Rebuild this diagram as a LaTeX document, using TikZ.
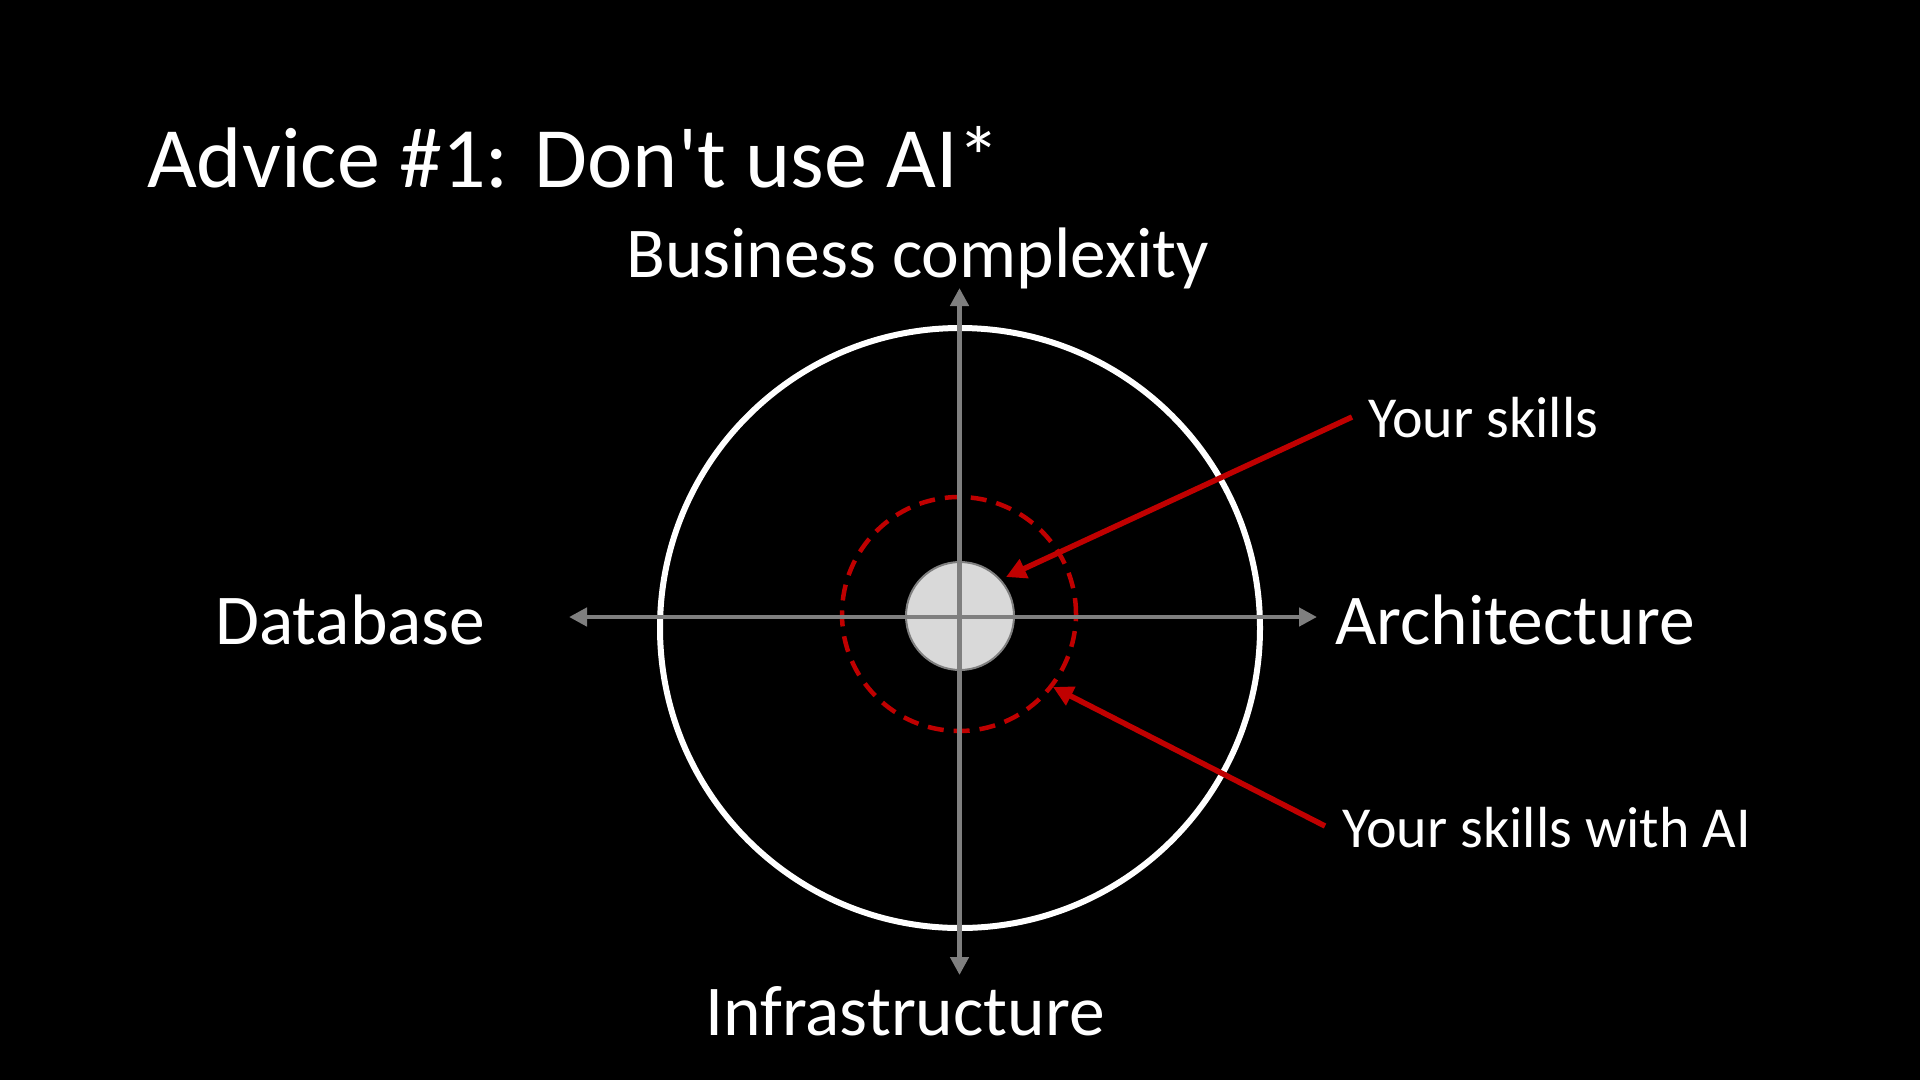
\documentclass[tikz,border=0pt]{standalone}
\usepackage{fontspec}
\setmainfont{Carlito}[Ligatures=TeXOff]
\usetikzlibrary{arrows.meta}
\definecolor{axisgray}{HTML}{7F7F7F}
\definecolor{lightfill}{HTML}{D9D9D9}
\definecolor{darkred}{HTML}{C00000}
\tikzset{
  axis/.style={draw=axisgray, line width=4.5pt, -{Triangle[length=18pt,width=18pt]}},
  redarrow/.style={draw=darkred, line width=5.5pt, -{Triangle[length=20pt,width=20pt]}},
  lbl/.style={text=white, inner sep=0pt, anchor=base west},
  big/.style={lbl, font=\fontsize{71.5}{72}\selectfont},
  small/.style={lbl, font=\fontsize{58}{58}\selectfont},
}
\begin{document}
\begin{tikzpicture}[x=1pt,y=-1pt]
\fill[black] (0,0) rectangle (1920,1080);
\useasboundingbox (0,0) rectangle (1920,1080);

\node[lbl, font=\fontsize{86}{86}\selectfont] (title) at (147,187) {Advice \#1: Don't use AI*};

\node[circle, draw=white, line width=6pt, minimum size=600pt, inner sep=0pt] (outer) at (960,628) {};
\node[circle, draw=darkred, line width=4.5pt, dash pattern=on 16pt off 10pt, minimum size=234pt, inner sep=0pt] (withai) at (959,614) {};
\node[circle, draw=axisgray, fill=lightfill, line width=2pt, minimum size=108pt, inner sep=0pt] (skills) at (960,616) {};

\coordinate (c) at (959.5,617);
\coordinate (left) at (569,617);
\coordinate (right) at (1317,617);
\coordinate (top) at (959.5,288);
\coordinate (bottom) at (959.5,975);
\draw[axis] (c) -- (left);
\draw[axis] (c) -- (right);
\draw[axis] (c) -- (top);
\draw[axis] (c) -- (bottom);

\node[big] (biz) at (626,277) {Business complexity};
\node[big] (db) at (215,644) {Database};
\node[big] (arch) at (1335,644) {Architecture};
\node[big] (infra) at (705,1035) {Infrastructure};

\node[small] (ys) at (1368,437) {Your skills};
\node[small] (ysai) at (1342,847) {Your skills with AI};

\coordinate (ysstart) at (1352,417);
\coordinate (ystip) at (1006,577);
\coordinate (aistart) at (1325,826);
\coordinate (aitip) at (1053,687);
\draw[redarrow] (ysstart) -- (ystip);
\draw[redarrow] (aistart) -- (aitip);
\end{tikzpicture}
\end{document}
